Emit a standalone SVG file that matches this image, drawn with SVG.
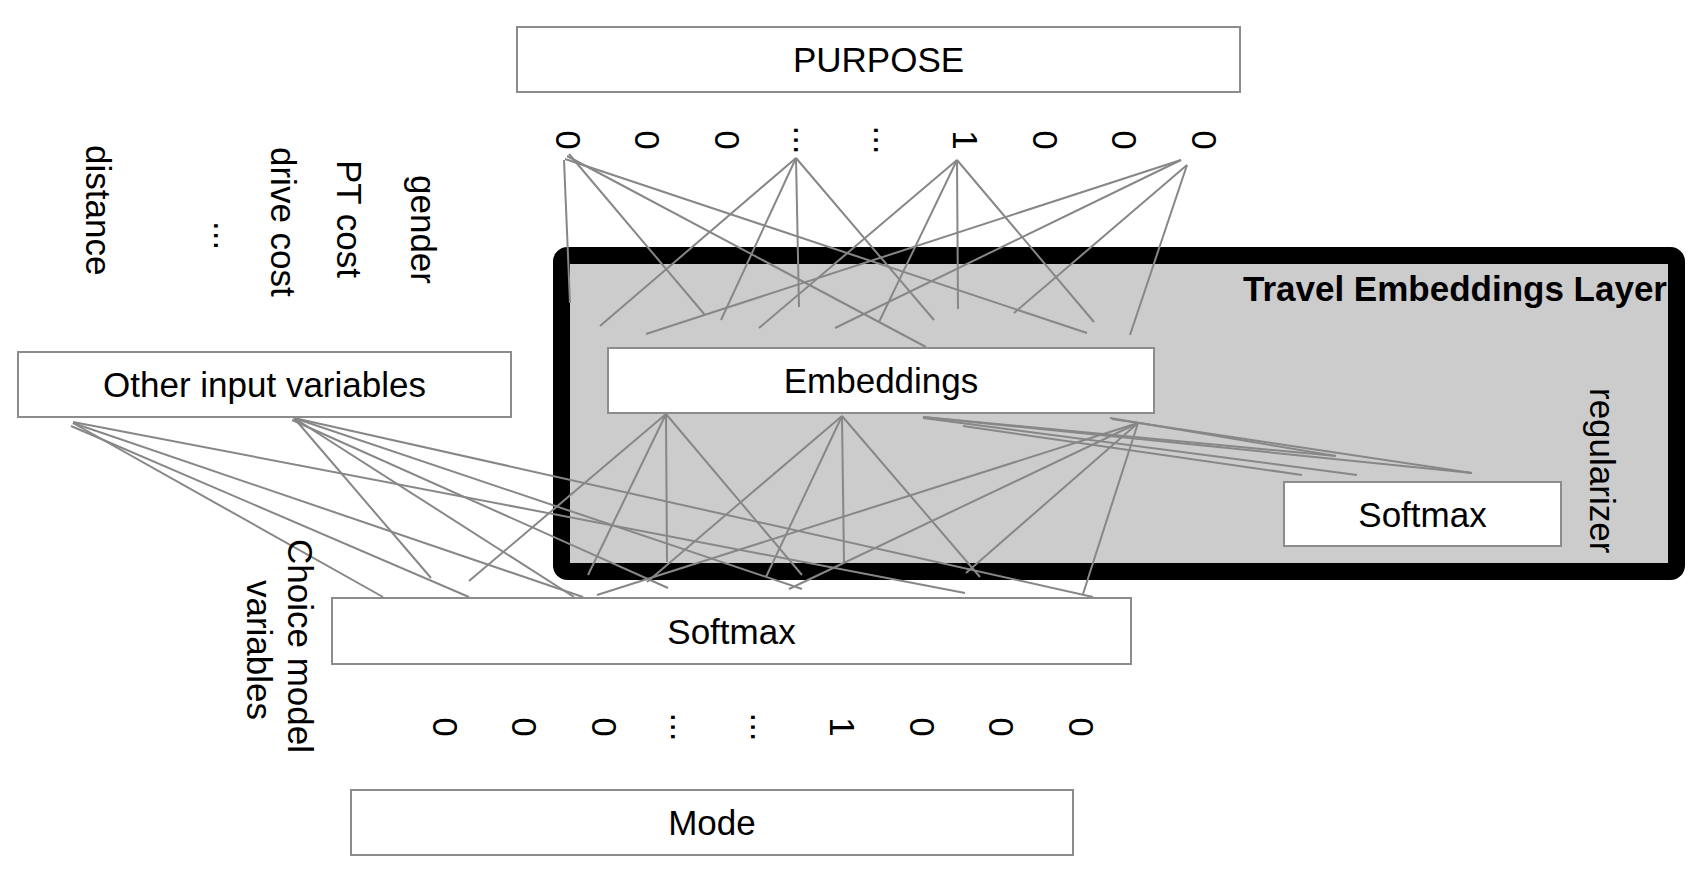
<svg xmlns="http://www.w3.org/2000/svg" width="1706" height="874" viewBox="0 0 1706 874">
<style>
.box{fill:#fff;stroke:#8c8c8c;stroke-width:2}
.t{font-family:"Liberation Sans",Arial,Helvetica,sans-serif;font-size:35px;fill:#000}
.c{text-anchor:middle}
.b{font-weight:bold;font-size:35px}
#connectors line{stroke:#878787;stroke-width:2;stroke-linecap:butt}
</style>
<rect width="1706" height="874" fill="#fff"/>
<g id="travel-layer">
<rect x="561.5" y="255.5" width="1115" height="316" rx="6" fill="#cccccc" stroke="#000" stroke-width="17"/>
<text class="t b" x="1667" y="301" text-anchor="end">Travel Embeddings Layer</text>
<text class="t" transform="translate(1590,388) rotate(90)">regularizer</text>
</g>
<g id="connectors">
<line x1="564" y1="160" x2="570" y2="303"/>
<line x1="569" y1="154" x2="705" y2="315"/>
<line x1="567" y1="156" x2="926" y2="347"/>
<line x1="565" y1="159" x2="1087" y2="333"/>
<line x1="796" y1="158" x2="600" y2="326"/>
<line x1="796" y1="158" x2="721" y2="320"/>
<line x1="796" y1="158" x2="799" y2="307"/>
<line x1="796" y1="158" x2="934" y2="320"/>
<line x1="957" y1="160" x2="759" y2="328"/>
<line x1="957" y1="160" x2="879" y2="322"/>
<line x1="957" y1="160" x2="958" y2="309"/>
<line x1="957" y1="160" x2="1094" y2="322"/>
<line x1="1181" y1="160" x2="646" y2="334"/>
<line x1="1181" y1="160" x2="835" y2="328"/>
<line x1="1187" y1="165" x2="1014" y2="313"/>
<line x1="1187" y1="165" x2="1130" y2="335"/>
<line x1="666" y1="414" x2="469" y2="581"/>
<line x1="666" y1="414" x2="588" y2="575"/>
<line x1="666" y1="414" x2="667" y2="562"/>
<line x1="666" y1="414" x2="802" y2="575"/>
<line x1="842" y1="416" x2="647" y2="582"/>
<line x1="842" y1="416" x2="766" y2="577"/>
<line x1="842" y1="416" x2="844" y2="562"/>
<line x1="842" y1="416" x2="980" y2="577"/>
<line x1="1138" y1="423" x2="597" y2="595"/>
<line x1="1138" y1="423" x2="789" y2="589"/>
<line x1="1138" y1="423" x2="966" y2="573"/>
<line x1="1138" y1="423" x2="1083" y2="594"/>
<line x1="73" y1="423" x2="383" y2="597"/>
<line x1="71" y1="426" x2="469" y2="597"/>
<line x1="73" y1="423" x2="583" y2="597"/>
<line x1="73" y1="422" x2="965" y2="593"/>
<line x1="294" y1="418" x2="431" y2="578"/>
<line x1="294" y1="418" x2="574" y2="597"/>
<line x1="292" y1="420" x2="668" y2="588"/>
<line x1="294" y1="418" x2="802" y2="589"/>
<line x1="294" y1="418" x2="1093" y2="597"/>
<line x1="923" y1="417" x2="1336" y2="456"/>
<line x1="923" y1="418" x2="1357" y2="475"/>
<line x1="923" y1="417" x2="1472" y2="473"/>
<line x1="963" y1="426" x2="1302" y2="475"/>
<line x1="1110" y1="418" x2="1336" y2="456"/>
<line x1="1112" y1="419" x2="1472" y2="473"/>
</g>
<g id="purpose">
<rect class="box" x="517" y="27" width="723" height="65"/>
<text class="t c" x="878.5" y="72">PURPOSE</text>
</g>
<g id="purpose-vector">
<text class="t c" transform="translate(555.5,140) rotate(90)">0</text>
<text class="t c" transform="translate(635,140) rotate(90)">0</text>
<text class="t c" transform="translate(714.5,140) rotate(90)">0</text>
<text class="t c" transform="translate(794,140) rotate(90)">...</text>
<text class="t c" transform="translate(873.5,140) rotate(90)">...</text>
<text class="t c" transform="translate(953,140) rotate(90)">1</text>
<text class="t c" transform="translate(1032.5,140) rotate(90)">0</text>
<text class="t c" transform="translate(1112,140) rotate(90)">0</text>
<text class="t c" transform="translate(1191.5,140) rotate(90)">0</text>
</g>
<g id="input-labels">
<text class="t" transform="translate(86,145) rotate(90)">distance</text>
<text class="t" transform="translate(214,221) rotate(90)">...</text>
<text class="t" transform="translate(271,147) rotate(90)">drive cost</text>
<text class="t" transform="translate(337,160) rotate(90)">PT cost</text>
<text class="t" transform="translate(411,175) rotate(90)">gender</text>
</g>
<g id="other-inputs">
<rect class="box" x="18" y="352" width="493" height="65"/>
<text class="t c" x="264.5" y="397">Other input variables</text>
</g>
<g id="embeddings">
<rect class="box" x="608" y="348" width="546" height="65"/>
<text class="t c" x="881" y="393">Embeddings</text>
</g>
<g id="softmax-regularizer">
<rect class="box" x="1284" y="482" width="277" height="64"/>
<text class="t c" x="1422.5" y="526.5">Softmax</text>
</g>
<g id="softmax">
<rect class="box" x="332" y="598" width="799" height="66"/>
<text class="t c" x="731.5" y="643.5">Softmax</text>
</g>
<g id="choice-label">
<text class="t c" transform="translate(288,646) rotate(90)">Choice model</text>
<text class="t c" transform="translate(247,650) rotate(90)">variables</text>
</g>
<g id="mode-vector">
<text class="t c" transform="translate(432.5,727) rotate(90)">0</text>
<text class="t c" transform="translate(512,727) rotate(90)">0</text>
<text class="t c" transform="translate(591.5,727) rotate(90)">0</text>
<text class="t c" transform="translate(671,727) rotate(90)">...</text>
<text class="t c" transform="translate(750.5,727) rotate(90)">...</text>
<text class="t c" transform="translate(830,727) rotate(90)">1</text>
<text class="t c" transform="translate(909.5,727) rotate(90)">0</text>
<text class="t c" transform="translate(989,727) rotate(90)">0</text>
<text class="t c" transform="translate(1068.5,727) rotate(90)">0</text>
</g>
<g id="mode">
<rect class="box" x="351" y="790" width="722" height="65"/>
<text class="t c" x="712" y="835">Mode</text>
</g>
</svg>
